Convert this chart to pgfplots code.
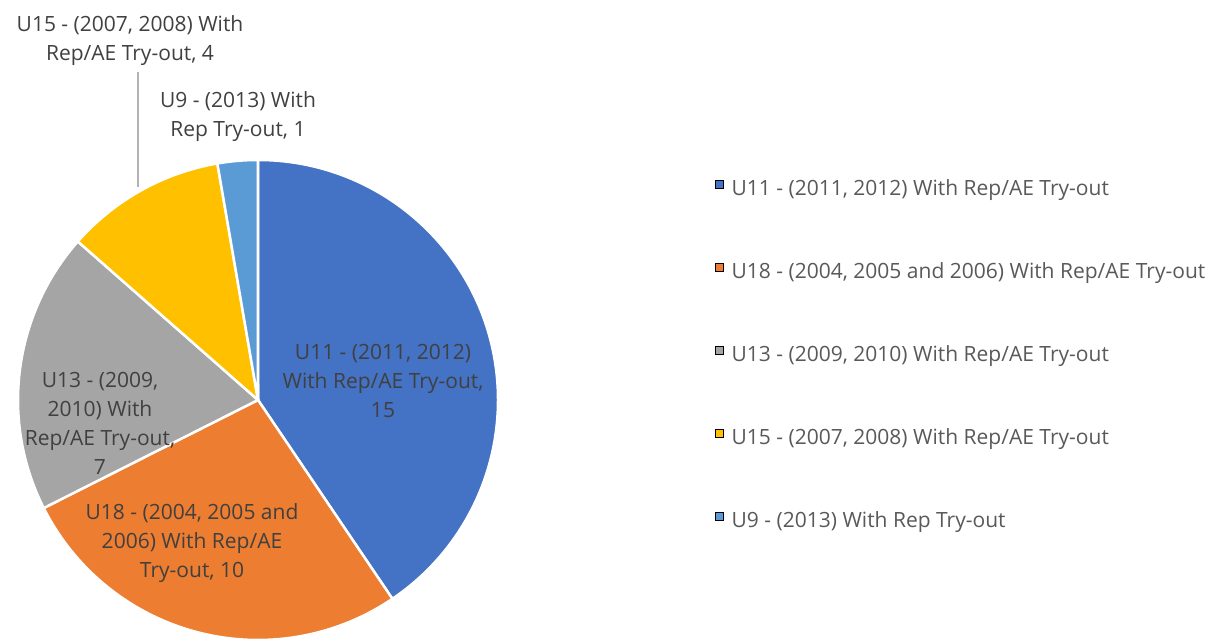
\documentclass[border=0pt]{standalone}
\usepackage{pgfplots}
\usepackage{pgfplotstable}
\pgfplotsset{compat=1.18}
\usepackage{fontspec}
\setmainfont{Open Sans}
\definecolor{c0}{HTML}{4472C4}
\definecolor{c1}{HTML}{ED7D31}
\definecolor{c2}{HTML}{A5A5A5}
\definecolor{c3}{HTML}{FFC000}
\definecolor{c4}{HTML}{5B9BD5}
\definecolor{lbl}{HTML}{404040}
\definecolor{leg}{HTML}{595959}

\pgfplotstableread{
value
15
10
7
4
1
}\piedata

% cumulative angles, clockwise from 90 degrees (computed in the preamble)
\gdef\total{0}
\pgfplotsforeachungrouped \i in {0,...,4}{%
  \pgfplotstablegetelem{\i}{value}\of\piedata
  \pgfmathsetmacro\tmp{\total+\pgfplotsretval}%
  \global\let\total\tmp
}
\gdef\cur{90}
\pgfplotsforeachungrouped \i in {0,...,4}{%
  \pgfplotstablegetelem{\i}{value}\of\piedata
  \pgfmathsetmacro\nxt{\cur-\pgfplotsretval/\total*360}%
  \expandafter\xdef\csname sa\i\endcsname{\cur}%
  \expandafter\xdef\csname ea\i\endcsname{\nxt}%
  \global\let\cur\nxt
}

\begin{document}
\begin{tikzpicture}
\begin{axis}[
  name=ax,
  hide axis, scale only axis,
  width=1223bp, height=640bp,
  xmin=0, xmax=1223, ymin=0, ymax=640,
  clip=false,
  legend cell align=left,
  legend style={at={(715/1223,460/640)}, anchor=north west, draw=none, fill=none,
    inner sep=0pt, row sep=64bp, column sep=8bp,
    font=\fontsize{21bp}{25bp}\selectfont, text=leg,
    nodes={inner sep=0pt, text height=15bp, text depth=4bp}},
  legend image code/.code={\fill[#1] (0bp,1bp) rectangle (8bp,9bp);},
]
\pgfplotsinvokeforeach{0,...,4}{%
  \fill[c#1, draw=white, line width=2.5bp] (axis cs:258,240) -- ++(\csname sa#1\endcsname:240bp)
    arc[start angle=\csname sa#1\endcsname, end angle=\csname ea#1\endcsname, radius=240bp] -- cycle;
}
\addlegendimage{fill=c0}\addlegendentry{U11 - (2011, 2012) With Rep/AE Try-out}
\addlegendimage{fill=c1}\addlegendentry{U18 - (2004, 2005 and 2006) With Rep/AE Try-out}
\addlegendimage{fill=c2}\addlegendentry{U13 - (2009, 2010) With Rep/AE Try-out}
\addlegendimage{fill=c3}\addlegendentry{U15 - (2007, 2008) With Rep/AE Try-out}
\addlegendimage{fill=c4}\addlegendentry{U9 - (2013) With Rep Try-out}

\tikzset{lab/.style={align=center, text=lbl, inner sep=0pt, font=\fontsize{21bp}{29bp}\selectfont}}
\node[lab] at (axis cs:383,259) {U11 - (2011, 2012)\\With Rep/AE Try-out,\\15};
\node[lab] at (axis cs:192,97) {U18 - (2004, 2005 and\\2006) With Rep/AE\\Try-out, 10};
\node[lab] at (axis cs:100,217) {U13 - (2009,\\2010) With\\Rep/AE Try-out,\\7};
\node[lab] at (axis cs:130,599) {U15 - (2007, 2008) With\\Rep/AE Try-out, 4};
\node[lab] at (axis cs:238,523) {U9 - (2013) With\\Rep Try-out, 1};
\draw[black!30, line width=1.5bp] (axis cs:138,568) -- (axis cs:138,453);
\end{axis}
\pgfresetboundingbox
\path[use as bounding box] (ax.south west) rectangle (ax.north east);
\end{tikzpicture}
\end{document}
